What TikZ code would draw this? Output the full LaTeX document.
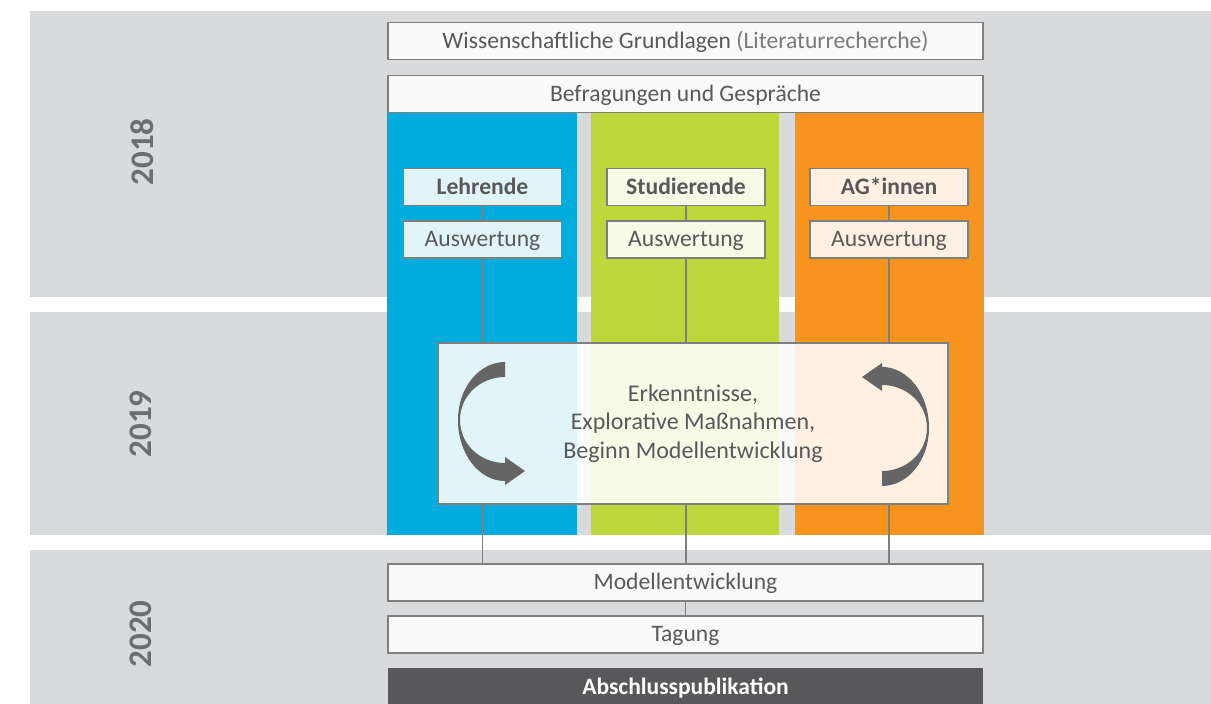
\documentclass[tikz,border=0pt]{standalone}
\usepackage{fontspec}
\setmainfont{Carlito}
\usetikzlibrary{calc}
\definecolor{bandgray}{HTML}{D9DADC}
\definecolor{cblue}{HTML}{00ACDD}
\definecolor{cgreen}{HTML}{BED73B}
\definecolor{corange}{HTML}{F7941E}
\definecolor{linegray}{HTML}{7F7F7F}
\definecolor{txtgray}{HTML}{595959}
\definecolor{lighttxt}{HTML}{7A7A7A}
\definecolor{yeargray}{HTML}{6D6E71}
\definecolor{darkbox}{HTML}{58585A}
\definecolor{arrowgray}{HTML}{656565}
\definecolor{boxwhite}{HTML}{FAFAFA}
\def\arrowshape{(505,362) .. controls (479,362) and (458,388) .. (458,420)
 .. controls (458,454) and (479,481) .. (505,481)
 -- (505,485) -- (525,471) -- (505,457) -- (505,463)
 .. controls (480,463) and (460,444) .. (460,420)
 .. controls (460,396) and (480,377) .. (505,377) -- cycle}
\begin{document}
\begin{tikzpicture}[x=1pt,y=-1pt,
  band/.style={fill=bandgray, draw=none},
  wbox/.style={draw=linegray, line width=1.2pt, fill=boxwhite, minimum width=595pt, minimum height=37pt, inner sep=0pt, text height=18pt, text depth=4pt, text=txtgray, font=\fontsize{23.6}{26}\selectfont},
  cbox/.style={draw=linegray, line width=1.2pt, fill=white, fill opacity=0.88, text opacity=1, minimum width=158pt, minimum height=37pt, inner sep=0pt, text height=18pt, text depth=4pt, text=txtgray, font=\fontsize{23.6}{26}\selectfont},
  hbox/.style={cbox, font=\fontsize{23.6}{26}\selectfont\bfseries},
  midbox/.style={draw=linegray, line width=1.2pt, fill=white, fill opacity=0.88, text opacity=1, minimum width=510pt, minimum height=161pt, inner sep=0pt, text=txtgray, align=center, font=\fontsize{24}{28.5}\selectfont},
  darkbx/.style={draw=none, fill=darkbox, minimum width=595pt, minimum height=38pt, inner sep=0pt, text height=18pt, text depth=4pt, text=white, font=\fontsize{23.5}{26}\selectfont\bfseries},
  year/.style={rotate=90, text=yeargray, font=\fontsize{33}{36}\selectfont\bfseries},
  conn/.style={draw=linegray, line width=1.2pt},
  arrowfill/.style={fill=arrowgray, draw=none}]
\useasboundingbox (0,0) rectangle (1211,704);
\fill[white] (0,0) rectangle (1211,704);
% bands
\fill[band] (30,11) rectangle (1211,297);
\fill[band] (30,312) rectangle (1211,535);
\fill[band] (30,550) rectangle (1211,704);
% columns
\fill[cblue] (387,113) rectangle (577,535);
\fill[cgreen] (591,113) rectangle (779,535);
\fill[corange] (795,113) rectangle (984,535);
% years
\node[year] (y18) at (142,152) {2018};
\node[year] (y19) at (141,424) {2019};
\node[year] (y20) at (141,634) {2020};
% top boxes
\node[wbox] (wiss) at (685.5,41) {Wissenschaftliche Grundlagen \textcolor{lighttxt}{(Literaturrecherche)}};
\node[wbox] (befr) at (685.5,94) {Befragungen und Gespräche};
% column boxes
\node[hbox] (leh) at (482.5,187) {Lehrende};
\node[cbox] (aus1) at (482.5,239.5) {Auswertung};
\node[hbox] (stu) at (686,187) {Studierende};
\node[cbox] (aus2) at (686,239.5) {Auswertung};
\node[hbox] (ag) at (889,187) {AG*innen};
\node[cbox] (aus3) at (889,239.5) {Auswertung};
% middle box
\node[midbox] (mid) at (693,423.5) {Erkenntnisse,\\Explorative Maßnahmen,\\Beginn Modellentwicklung};
% bottom boxes
\node[wbox] (mod) at (685.5,582.5) {Modellentwicklung};
\node[wbox] (tag) at (685.5,634.5) {Tagung};
\node[darkbx] (abs) at (685.5,687) {Abschlusspublikation};
% connectors
\foreach \h/\a in {leh/aus1, stu/aus2, ag/aus3}{
  \draw[conn] (\h.south) -- (\a.north);
  \draw[conn] (\a.south) -- (\a.south |- mid.north);
  \draw[conn] (\a.south |- mid.south) -- (\a.south |- mod.north);
}
\draw[conn] (mod.south) -- (tag.north);
% cycle arrows
\fill[arrowfill] \arrowshape;
\fill[arrowfill, rotate around={180:(693.5,424)}] \arrowshape;
\end{tikzpicture}
\end{document}
